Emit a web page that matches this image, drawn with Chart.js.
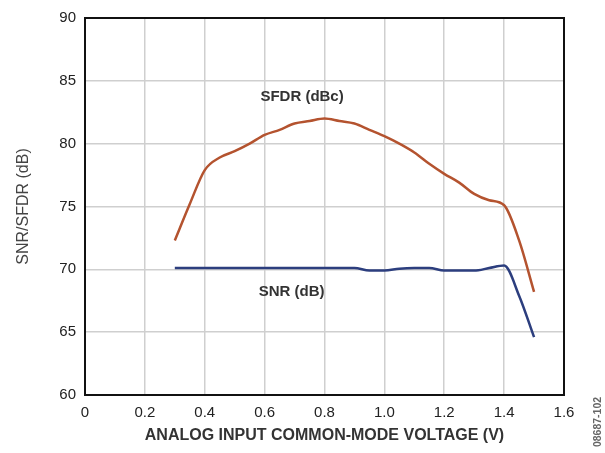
<!DOCTYPE html>
<html>
<head>
<meta charset="utf-8">
<script src="https://cdn.jsdelivr.net/npm/chart.js@4"></script>
<style>
  html, body { margin: 0; padding: 0; background: #fff; }
  #wrap { width: 605px; height: 453px; }
</style>
</head>
<body>
<div id="wrap"><canvas id="chart" width="605" height="453"></canvas></div>
<script>
// common-mode voltage (V)
const voltage = [0.30, 0.35, 0.40, 0.45, 0.50, 0.55, 0.60, 0.65, 0.70, 0.75, 0.80, 0.85, 0.90,
                 0.95, 1.00, 1.05, 1.10, 1.15, 1.20, 1.25, 1.30, 1.35, 1.40, 1.45, 1.50];
// SFDR (dBc)
const sfdr = [72.3, 75.2, 77.9, 78.9, 79.4, 80.0, 80.7, 81.1, 81.6, 81.8, 82.0, 81.8, 81.6,
              81.1, 80.6, 80.0, 79.3, 78.4, 77.6, 76.9, 76.0, 75.5, 75.1, 72.3, 68.2];
// SNR (dB)
const snr = [70.1, 70.1, 70.1, 70.1, 70.1, 70.1, 70.1, 70.1, 70.1, 70.1, 70.1, 70.1, 70.1,
             69.9, 69.9, 70.05, 70.1, 70.1, 69.9, 69.9, 69.9, 70.1, 70.3, 67.9, 64.6];

const xTicks = [0, 0.2, 0.4, 0.6, 0.8, 1.0, 1.2, 1.4, 1.6];
const yTicks = [60, 65, 70, 75, 80, 85, 90];

const curveLabels = [
  { text: 'SFDR (dBc)', x: 0.725, y: 83.75 },
  { text: 'SNR (dB)', x: 0.69, y: 68.2 }
];

const FONT = "'Liberation Sans', Arial, sans-serif";

const pts = (ys) => voltage.map((v, i) => ({ x: v, y: ys[i] }));

// frame, inline curve labels and figure number
const extras = {
  id: 'extras',
  afterDraw(chart) {
    const { ctx, chartArea: a, scales } = chart;
    ctx.save();
    ctx.strokeStyle = '#111';
    ctx.lineWidth = 2;
    ctx.strokeRect(a.left, a.top, a.right - a.left, a.bottom - a.top);

    ctx.fillStyle = '#333';
    ctx.font = 'bold 15px ' + FONT;
    ctx.textAlign = 'center';
    ctx.textBaseline = 'middle';
    curveLabels.forEach(l => {
      ctx.fillText(l.text, scales.x.getPixelForValue(l.x), scales.y.getPixelForValue(l.y));
    });

    ctx.translate(598, 422);
    ctx.rotate(-Math.PI / 2);
    ctx.font = 'bold 10.5px ' + FONT;
    ctx.fillStyle = '#666';
    ctx.fillText('08687-102', 0, 0);
    ctx.restore();
  }
};

new Chart('chart', {
  type: 'line',
  data: {
    datasets: [
      { label: 'SFDR (dBc)', data: pts(sfdr), borderColor: '#b4532f', borderWidth: 2.5,
        pointRadius: 0, tension: 0.3, cubicInterpolationMode: 'monotone' },
      { label: 'SNR (dB)', data: pts(snr), borderColor: '#2c3e7e', borderWidth: 2.5,
        pointRadius: 0, tension: 0.3, cubicInterpolationMode: 'monotone' }
    ]
  },
  options: {
    responsive: false,
    animation: false,
    layout: { padding: { left: 0, right: 41, top: 13, bottom: 0 } },
    plugins: { legend: { display: false }, tooltip: { enabled: false } },
    scales: {
      x: {
        type: 'linear', min: 0, max: 1.6,
        afterBuildTicks: (s) => { s.ticks = xTicks.map(v => ({ value: v })); },
        afterFit: (s) => { s.height = 58; },
        grid: { color: '#cfcfcf', lineWidth: 1.5, drawTicks: false },
        border: { display: false },
        ticks: {
          padding: 9, color: '#222', font: { family: FONT, size: 15 },
          callback: (v) => v === 0 ? '0' : v.toFixed(1)
        },
        title: {
          display: true, text: 'ANALOG INPUT COMMON-MODE VOLTAGE (V)', color: '#333',
          font: { family: FONT, size: 16, weight: 'bold' }, padding: { top: 0, bottom: 8 }
        }
      },
      y: {
        min: 60, max: 90,
        afterBuildTicks: (s) => { s.ticks = yTicks.map(v => ({ value: v })); },
        afterFit: (s) => { s.width = 85; },
        grid: { color: '#cfcfcf', lineWidth: 1.5, drawTicks: false },
        border: { display: false },
        ticks: { padding: 9, color: '#222', font: { family: FONT, size: 15 } },
        title: {
          display: true, text: 'SNR/SFDR (dB)', color: '#444',
          font: { family: FONT, size: 16 }, padding: { top: 14, bottom: 0 }
        }
      }
    }
  },
  plugins: [extras]
});
</script>
</body>
</html>
